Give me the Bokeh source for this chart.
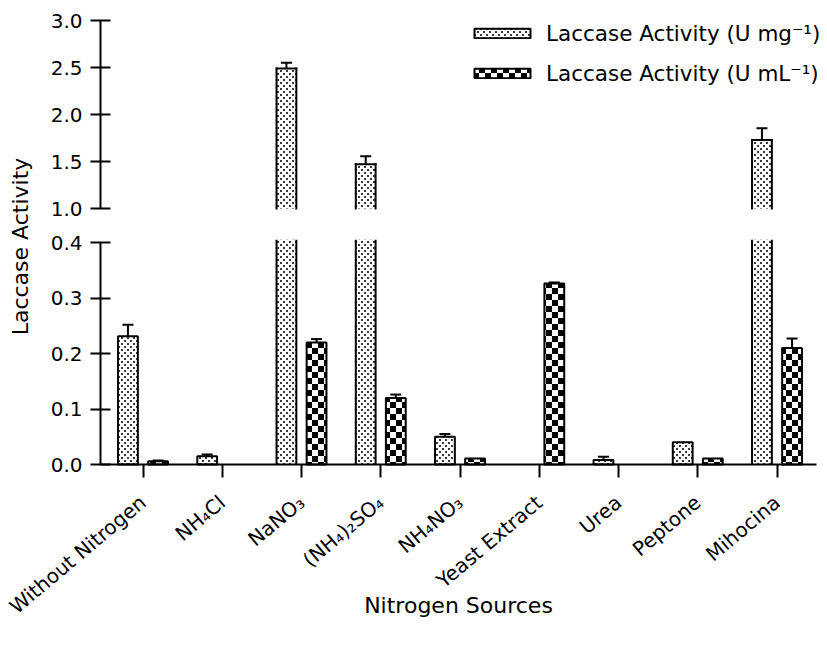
import math, zlib, struct, base64
from bokeh.plotting import figure
from bokeh.models import (ColumnDataSource, Range1d, FixedTicker, LinearAxis,
                          PrintfTickFormatter, Whisker, TeeHead, Label, ImageURLTexture)
from bokeh.transform import dodge
from bokeh.core.properties import value
from bokeh.embed import file_html
from bokeh.resources import INLINE

# ---------------- data ----------------
categories = ["Without Nitrogen", "NH\u2084Cl", "NaNO\u2083", "(NH\u2084)\u2082SO\u2084",
              "NH\u2084NO\u2083", "Yeast Extract", "Urea", "Peptone", "Mihocina"]
mg_values = [0.231, 0.015, 2.49, 1.47, 0.050, 0.0, 0.008, 0.040, 1.73]
mg_errors = [0.021, 0.003, 0.06, 0.085, 0.005, 0.0, 0.006, 0.0, 0.125]
ml_values = [0.006, 0.0, 0.220, 0.120, 0.011, 0.326, 0.0, 0.011, 0.210]
ml_errors = [0.001, 0.0, 0.006, 0.006, 0.0, 0.002, 0.0, 0.0, 0.017]
upper_ticks = [1.0, 1.5, 2.0, 2.5, 3.0]
lower_ticks = [0.0, 0.1, 0.2, 0.3, 0.4]
label_mg = "Laccase Activity (U mg\u207b\u00b9)"
label_ml = "Laccase Activity (U mL\u207b\u00b9)"
x_title = "Nitrogen Sources"
y_title = "Laccase Activity"

# ---------------- layout constants (page pixels) ----------------
FONT = "DejaVu Sans"
W, H = 827, 651
OFF = 0.19          # bar offset from group centre (category units)
BW = 0.25           # bar width (category units)
CAT0_PX = 142.5     # page x of first group centre
STEP_PX = 79.25     # page px per category
AXIS_X_PX = 100     # page x of the y axes
XAXIS_END_PX = 816
ZERO_PX = 464       # page y of 0.0
LOW_PPU = 222 / 0.4 # px per unit, lower panel
TOP3_PX = 20        # page y of 3.0
UP_PPU = 188 / 2.0  # px per unit, upper panel
LOW_CAP = 0.405     # lower bars are cut here
UP_BASE = 1.0       # upper bars start here


def xd(px):
    return (px - CAT0_PX) / STEP_PX


def yd(py):
    return (ZERO_PX - py) / LOW_PPU


# ---------------- hatch textures (tiny PNGs) ----------------
def png_uri(rows):
    h, w = len(rows), len(rows[0])
    raw = b"".join(b"\x00" + bytes(c for px in r for c in px) for r in rows)

    def chunk(t, d):
        return struct.pack(">I", len(d)) + t + d + struct.pack(">I", zlib.crc32(t + d) & 0xffffffff)
    png = (b"\x89PNG\r\n\x1a\n" + chunk(b"IHDR", struct.pack(">IIBBBBB", w, h, 8, 6, 0, 0, 0))
           + chunk(b"IDAT", zlib.compress(raw)) + chunk(b"IEND", b""))
    return "data:image/png;base64," + base64.b64encode(png).decode()


WHITE = (255, 255, 255, 255)
BLACK = (0, 0, 0, 255)
DOT = (60, 60, 60, 255)
dot_rows = [[WHITE] * 6 for _ in range(6)]
for (cx, cy) in ((1, 1), (4, 4)):
    for ddx in (0, 1):
        for ddy in (0, 1):
            dot_rows[cy + ddy][cx + ddx] = DOT
chk_rows = [[BLACK if ((x // 6) + (y // 6)) % 2 == 0 else WHITE for x in range(12)] for y in range(12)]
dots_tex = ImageURLTexture(url=png_uri(dot_rows))
checker_tex = ImageURLTexture(url=png_uri(chk_rows))

# frame covers the whole canvas; two y ranges give the broken axis
p = figure(x_range=Range1d(xd(0), xd(W)), y_range=Range1d(yd(H), yd(0)), width=W, height=H,
           output_backend="svg", toolbar_location=None, x_axis_location=None,
           y_axis_location=None, min_border=0)
p.extra_y_ranges = {"upper": Range1d(3.0 - (H - TOP3_PX) / UP_PPU, 3.0 + TOP3_PX / UP_PPU)}
p.grid.visible = False
p.outline_line_color = None

xs_idx = list(range(len(categories)))

series = [
    (mg_values, mg_errors, -OFF, "dots", dots_tex, label_mg),
    (ml_values, ml_errors, OFF, "checker", checker_tex, label_ml),
]

for vals, errs, off, hname, tex, leg in series:
    hatch = dict(fill_color="white", hatch_pattern=value(hname), hatch_extra={hname: tex})
    full = dict(x=[], top=[])
    broken = dict(x=[], top=[])
    for i, v in zip(xs_idx, vals):
        if v <= 0:
            continue
        tgt = broken if v > UP_BASE else full
        tgt["x"].append(i)
        tgt["top"].append(v)
    fsrc = ColumnDataSource(full)
    bsrc = ColumnDataSource(broken)
    xc = dodge("x", off)
    xl = dodge("x", off - BW / 2)
    xr = dodge("x", off + BW / 2)
    # unbroken bars
    p.vbar(x=xc, top="top", bottom=0, width=BW, source=fsrc, line_color="black",
           line_width=2, legend_label=leg, **hatch)
    # broken bars: lower piece (open at the break)
    p.vbar(x=xc, top=LOW_CAP, bottom=0, width=BW, source=bsrc, line_color=None, **hatch)
    for xs in (xl, xr):
        p.segment(x0=xs, y0=0, x1=xs, y1=LOW_CAP, source=bsrc, line_color="black",
                  line_width=2)
    # broken bars: upper piece (open at the break)
    p.vbar(x=xc, top="top", bottom=UP_BASE, width=BW, source=bsrc, line_color=None,
           y_range_name="upper", **hatch)
    for xs in (xl, xr):
        p.segment(x0=xs, y0=UP_BASE, x1=xs, y1="top", source=bsrc, line_color="black",
                  line_width=2, y_range_name="upper", line_cap="square")
    p.segment(x0=xl, y0="top", x1=xr, y1="top", source=bsrc, line_color="black",
              line_width=2, y_range_name="upper", line_cap="square")
    # error bars (upper side only)
    for keep, rname in ((lambda v: v < 0.4, "default"), (lambda v: v > UP_BASE, "upper")):
        wd = dict(x=[], lower=[], upper=[])
        for i, v, e in zip(xs_idx, vals, errs):
            if e > 0 and keep(v):
                wd["x"].append(i)
                wd["lower"].append(v)
                wd["upper"].append(v + e)
        p.add_layout(Whisker(base=xc, lower="lower", upper="upper", source=ColumnDataSource(wd),
                             dimension="height", line_width=2, line_color="black",
                             y_range_name=rname, lower_head=None,
                             upper_head=TeeHead(size=11, line_width=2, line_color="black")))


def y_axis(ticks, bounds, rname):
    ax = LinearAxis(y_range_name=rname, fixed_location=xd(AXIS_X_PX))
    ax.ticker = FixedTicker(ticks=ticks)
    ax.bounds = bounds
    ax.formatter = PrintfTickFormatter(format="%.1f")
    ax.axis_line_width = 2
    ax.axis_line_color = "black"
    ax.major_tick_line_width = 2
    ax.major_tick_line_color = "black"
    ax.major_tick_in = 10
    ax.major_tick_out = 10
    ax.minor_tick_line_color = None
    ax.major_label_text_font = FONT
    ax.major_label_text_font_size = "20px"
    ax.major_label_text_color = "black"
    ax.major_label_standoff = 8
    p.add_layout(ax, "left")


y_axis(lower_ticks, (0.0, 0.4), "default")
y_axis(upper_ticks, (1.0, 3.0), "upper")

xa = LinearAxis(fixed_location=0)
xa.ticker = FixedTicker(ticks=xs_idx)
xa.major_label_overrides = {i: c for i, c in zip(xs_idx, categories)}
xa.bounds = (xd(AXIS_X_PX), xd(XAXIS_END_PX))
xa.axis_line_width = 2
xa.axis_line_color = "black"
xa.major_tick_line_width = 2
xa.major_tick_line_color = "black"
xa.major_tick_in = 0
xa.major_tick_out = 13
xa.minor_tick_line_color = None
xa.major_label_orientation = 0.7
xa.major_label_standoff = 22
xa.major_label_text_font = FONT
xa.major_label_text_font_size = "20px"
xa.major_label_text_color = "black"
p.add_layout(xa, "below")

# axis titles
p.add_layout(Label(x=xd(458), y=yd(605), text=x_title, text_align="center",
                   text_baseline="middle", text_font=FONT, text_font_size="22px",
                   text_color="black"))
p.add_layout(Label(x=xd(20), y=yd(246), text=y_title, angle=math.pi / 2,
                   text_align="center", text_baseline="middle", text_font=FONT,
                   text_font_size="22px", text_color="black"))

leg = p.legend[0]
leg.glyph_width = 70
leg.glyph_height = 12
leg.label_height = 26
leg.label_standoff = 9
leg.spacing = 14
leg.padding = 0
leg.margin = 0
leg.location = (467, H - 20 - (2 * 26 + 14))
leg.border_line_color = None
leg.background_fill_alpha = 0
leg.label_text_font = FONT
leg.label_text_font_size = "21.5px"
leg.label_text_color = "black"

open("out.html", "w").write(file_html(p, INLINE))
